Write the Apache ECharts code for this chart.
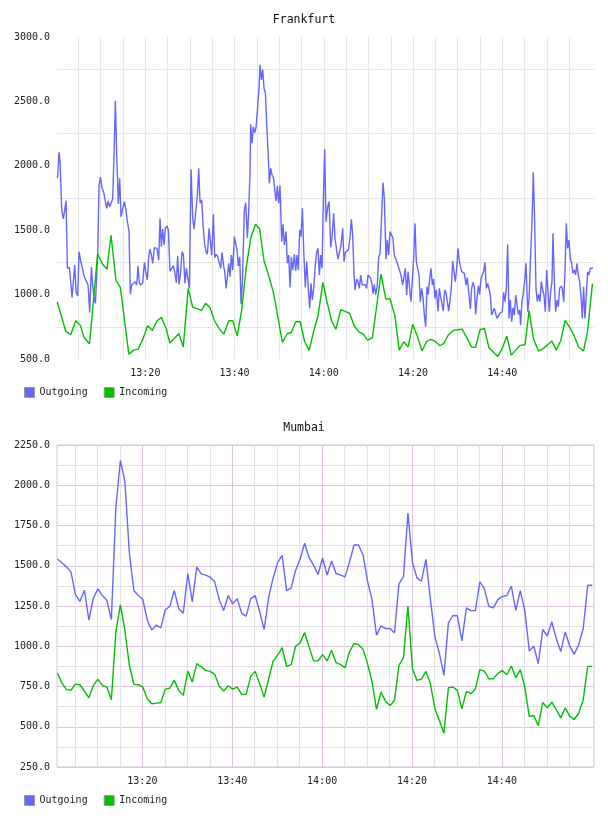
<!DOCTYPE html>
<html>
<head>
<meta charset="utf-8">
<script src="https://cdn.jsdelivr.net/npm/echarts@6/dist/echarts.min.js"></script>
<style>
html,body{margin:0;padding:0;background:#fff;}
#chart{width:608px;height:816px;}
</style>
</head>
<body>
<div id="chart"></div>
<script>
// ---- Data (x = minutes after 13:00) ----
const titles = ['Frankfurt', 'Mumbai'];
const seriesNames = ['Outgoing', 'Incoming'];
const tickLabelMinutes = [20, 40, 60, 80, 100];       // 13:20 ... 14:40
const gridMinutes = [5,10,15,20,25,30,35,40,45,50,55,60,65,70,75,80,85,90,95,100,105,110,115];

const frankfurtOutgoing = [
[0.3,1903],[0.66,2105],[0.88,2033],[1.26,1657],[1.63,1587],[2.01,1592],[2.23,1730],[2.53,1204],[2.98,1212],[3.27,1214],
[3.57,976],[3.87,991],[4.17,1230],[4.47,1022],[4.84,989],[5.14,1333],[5.51,1261],[5.89,1204],[6.19,1152],[6.49,1126],
[6.93,1113],[7.16,1074],[7.53,862],[7.91,1214],[8.2,1074],[8.5,978],[8.8,932],[9.32,1307],[9.62,1846],[9.92,1913],
[10.3,1825],[10.67,1794],[10.97,1735],[11.34,1670],[11.64,1727],[12.01,1683],[12.31,1683],[12.68,1742],[12.98,2084],[13.28,2504],
[13.58,2084],[13.95,1704],[14.25,1903],[14.55,1605],[14.93,1605],[15.3,1722],[15.6,1670],[15.97,1566],[16.34,1489],[16.64,1004],
[16.94,1074],[17.31,1087],[17.69,1100],[18.06,1074],[18.36,1222],[18.66,1092],[18.96,1074],[19.41,1092],[19.78,1250],[20.08,1178],
[20.45,1113],[20.75,1294],[21.05,1354],[21.35,1307],[21.65,1243],[22.02,1364],[22.32,1364],[22.62,1359],[22.99,1268],[23.29,1592],
[23.59,1372],[23.89,1509],[24.19,1385],[24.49,1515],[24.86,1533],[25.16,1502],[25.53,1183],[25.9,1191],[26.28,1224],[26.58,1178],
[26.95,1092],[27.25,1300],[27.55,1079],[27.85,1152],[28.22,1333],[28.52,1313],[28.89,1087],[29.19,1204],[29.49,1204],[29.86,1048],
[30.24,1973],[30.62,1592],[30.92,1509],[31.29,1515],[31.66,1774],[31.96,1981],[32.26,1709],[32.63,1735],[32.93,1540],[33.31,1385],
[33.6,1333],[33.9,1313],[34.28,1515],[34.58,1411],[34.87,1307],[35.25,1623],[35.55,1287],[35.85,1313],[36.22,1294],[36.52,1297],
[36.89,1204],[37.19,1328],[37.56,1217],[37.79,1178],[38.09,1048],[38.38,1134],[38.68,1243],[38.98,1139],[39.28,1307],[39.58,1191],
[39.95,1450],[40.25,1437],[40.55,1346],[40.85,1222],[41.15,1294],[41.45,925],[41.75,1100],[42.19,1657],[42.49,1714],[42.87,1442],
[43.16,1644],[43.46,1955],[43.61,2323],[43.91,2175],[44.21,2304],[44.51,2258],[44.81,2297],[45.18,2304],[45.48,2602],[45.7,2784],
[46.0,2667],[46.3,2745],[46.6,2602],[46.9,2569],[47.2,2317],[47.5,2110],[47.8,1864],[48.1,1981],[48.39,1929],[48.69,1911],
[48.99,1903],[49.29,1727],[49.59,1844],[49.89,1709],[50.18,1846],[50.56,1411],[50.86,1546],[51.16,1385],[51.53,1489],[51.83,1243],
[52.13,1307],[52.43,1056],[52.72,1294],[53.02,1191],[53.4,1313],[53.7,1183],[53.99,1307],[54.29,1191],[54.59,1502],[54.89,1450],
[55.19,1670],[55.56,1281],[55.86,1056],[56.16,1256],[56.53,1048],[56.83,893],[57.13,1087],[57.43,958],[57.73,1048],[58.03,1204],
[58.4,1333],[58.7,1359],[59.0,1152],[59.3,1307],[59.6,1204],[59.97,1851],[60.19,2131],[60.49,1566],[60.87,1683],[61.17,1722],
[61.54,1367],[61.84,1450],[62.21,1631],[62.51,1437],[62.81,1359],[63.18,1276],[63.56,1261],[63.85,1385],[64.23,1515],[64.53,1256],
[64.83,1328],[65.2,1315],[65.5,1346],[65.87,1442],[66.17,1584],[66.47,1463],[66.77,1152],[66.99,1036],[67.37,1121],[67.66,1100],
[67.96,1048],[68.26,1152],[68.63,1074],[68.93,1085],[69.23,1079],[69.6,1048],[69.9,1152],[70.2,1147],[70.5,1126],[70.8,1079],
[71.02,1007],[71.32,1079],[71.62,997],[71.99,1074],[72.29,1294],[72.59,1315],[72.97,1623],[73.26,1869],[73.56,1748],[73.94,1274],
[74.24,1424],[74.53,1307],[74.83,1489],[75.21,1489],[75.5,1437],[75.8,1307],[76.1,1313],[76.48,1243],[76.77,1250],[77.07,1178],
[77.37,1139],[77.67,1074],[77.97,1139],[78.27,1204],[78.57,997],[78.87,1178],[79.16,1074],[79.54,945],[79.84,958],[80.14,1287],
[80.43,1553],[80.73,1256],[81.03,1250],[81.33,1152],[81.63,945],[81.93,1048],[82.23,976],[82.53,841],[82.83,750],[83.12,1061],
[83.42,1002],[83.72,1126],[84.02,1204],[84.32,1074],[84.62,1121],[84.91,971],[85.21,1036],[85.59,872],[85.89,1048],[86.18,984],
[86.48,997],[86.78,872],[87.08,1036],[87.38,1017],[87.68,1022],[87.98,872],[88.28,958],[88.57,1048],[88.87,1261],[89.17,1178],
[89.47,1100],[89.77,1204],[90.07,1359],[90.37,1256],[90.89,1178],[91.19,1191],[91.49,1165],[91.86,1074],[92.16,1131],[92.54,1139],
[92.84,888],[93.13,1048],[93.43,1095],[93.73,1061],[94.03,846],[94.33,971],[94.63,1069],[94.93,1002],[95.23,1126],[95.52,1152],
[95.82,1183],[96.12,1250],[96.42,1048],[96.72,1087],[97.02,1100],[97.32,997],[97.61,841],[97.91,828],[98.21,893],[98.51,880],
[98.81,815],[99.11,833],[99.41,854],[99.71,854],[100.0,867],[100.3,1017],[100.6,945],[100.9,1048],[101.2,1390],[101.5,815],
[101.8,958],[102.1,789],[102.4,898],[102.7,841],[103.0,997],[103.3,984],[103.6,846],[103.9,880],[104.1,763],[104.4,945],
[104.7,1010],[105.0,1100],[105.3,1243],[105.7,867],[106.0,971],[106.3,1256],[106.7,1618],[106.95,1950],[107.25,1566],[107.55,1048],
[107.85,945],[108.15,1002],[108.45,945],[108.74,1100],[109.04,1036],[109.34,997],[109.64,867],[109.94,1191],[110.24,1178],[110.54,867],
[110.83,1022],[111.13,1100],[111.36,1476],[111.66,1100],[111.95,867],[112.25,958],[112.55,906],[112.85,1048],[113.15,1067],[113.45,1048],
[113.75,945],[114.05,1178],[114.34,1553],[114.64,1359],[114.94,1424],[115.24,1281],[115.54,1243],[115.84,1165],[116.14,1191],[116.43,1152],
[116.73,1243],[117.03,1152],[117.33,1100],[117.63,997],[117.93,815],[118.23,1061],[118.52,815],[118.82,997],[119.12,1178],[119.42,1152],
[119.72,1204],[120.02,1191],[120.32,1204]
];

const frankfurtIncoming = [
[0.25,945],[2.2,712],[3.3,691],[4.4,797],[5.4,763],[6.3,665],[7.5,618],[9.3,1315],[10.4,1237],[11.4,1196],
[12.3,1463],[13.4,1113],[14.4,1056],[16.3,538],[17.4,569],[18.4,577],[19.5,660],[20.5,758],[21.6,722],[22.6,795],
[23.6,823],[24.6,743],[25.5,624],[27.5,696],[28.5,593],[29.6,1048],[30.6,903],[32.6,877],[33.5,932],[34.5,898],
[35.5,797],[36.6,732],[37.6,694],[38.7,797],[39.6,797],[40.6,678],[41.6,883],[42.6,1204],[43.6,1437],[44.7,1546],
[45.6,1512],[46.6,1261],[47.6,1152],[48.7,1017],[49.7,828],[50.7,629],[51.8,696],[52.7,706],[53.7,789],[54.7,789],
[55.7,634],[56.7,566],[57.7,712],[58.7,836],[59.8,1095],[60.8,930],[61.8,789],[62.7,732],[63.8,883],[64.8,870],
[65.8,854],[66.8,758],[67.8,712],[68.9,691],[69.8,647],[70.9,665],[72.8,1160],[73.9,963],[74.8,971],[75.9,841],
[76.9,569],[77.9,634],[78.9,595],[79.9,769],[81.0,673],[82.0,562],[83.0,634],[84.0,652],[84.9,639],[86.0,603],
[86.9,621],[87.9,686],[89.0,722],[90.0,727],[91.0,732],[92.1,660],[93.1,593],[94.0,590],[95.0,727],[96.0,737],
[97.0,588],[98.0,554],[99.0,520],[100.0,582],[101.0,678],[102.0,530],[103.0,569],[104.0,606],[105.1,611],[106.0,875],
[107.0,655],[108.1,562],[109.0,577],[110.1,608],[111.1,639],[112.1,569],[113.1,644],[114.1,800],[115.1,745],[116.1,681],
[117.1,593],[118.2,562],[119.1,712],[120.2,1085]
];

// Mumbai: one sample per minute, first sample at 13:01
const mumbaiStartMinute = 1.1;
const mumbaiOutgoing = [
1542,1519,1494,1462,1321,1279,1348,1162,1300,1356,
1315,1285,1166,1862,2154,2025,1581,1346,1315,1290,
1162,1100,1131,1114,1225,1248,1346,1233,1205,1452,
1275,1492,1450,1442,1429,1400,1290,1221,1315,1263,
1296,1204,1187,1294,1315,1215,1104,1304,1425,1519,
1565,1346,1363,1471,1540,1640,1550,1504,1446,1548,
1442,1529,1452,1442,1431,1523,1629,1629,1567,1404,
1290,1069,1127,1110,1110,1083,1388,1433,1827,1519,
1425,1404,1540,1290,1058,954,819,1145,1191,1189,
1033,1238,1221,1221,1400,1358,1248,1238,1290,1310,
1315,1373,1223,1346,1221,971,1000,892,1104,1064,
1152,1048,967,1089,1002,950,1010,1110,1379,1379
];
const mumbaiIncoming = [
834,771,732,726,765,761,722,680,757,794,
757,746,668,1089,1258,1100,882,763,761,746,
674,643,647,649,734,740,788,726,695,846,
778,892,871,850,844,825,751,722,755,734,
746,701,701,813,844,767,684,798,909,944,
992,875,886,1000,1021,1085,996,909,909,948,
909,975,898,886,867,965,1017,1010,981,892,
778,609,715,659,632,663,882,929,1250,861,
788,796,844,767,611,539,460,742,746,726,
611,719,705,734,855,846,798,798,830,850,
823,877,805,855,746,564,570,507,651,618,
653,607,555,618,566,545,584,668,875,875
];

// ---- Build chart ----
const BLUE = '#6666ff', GREEN = '#00c000';
const PINK = '#dcc2dc', GRAY = '#e2e2e2', TOPGRAY = '#e6e6e6';
const FONT = '"DejaVu Sans Mono", "Liberation Mono", monospace';

function timeFmt(v) {
  const total = Math.round(v);
  const h = 13 + Math.floor(total / 60);
  const m = total % 60;
  return h + ':' + String(m).padStart(2, '0');
}
const mumbaiPairs = (arr) => arr.map((v, i) => [mumbaiStartMinute + i, v]);

const labelStyle = { fontFamily: FONT, fontSize: 10, color: '#222' };

const chart = echarts.init(document.getElementById('chart'), null, { renderer: 'canvas' });
chart.setOption({
  animation: false,
  backgroundColor: '#fff',
  title: [
    { text: titles[0], left: 'center', top: 14, padding: 0,
      textStyle: { fontFamily: FONT, fontSize: 11.5, fontWeight: 'normal', color: '#111' } },
    { text: titles[1], left: 'center', top: 422, padding: 0,
      textStyle: { fontFamily: FONT, fontSize: 11.5, fontWeight: 'normal', color: '#111' } }
  ],
  legend: [
    { left: 24, top: 387, padding: 0, itemWidth: 10, itemHeight: 10, itemGap: 16, icon: 'rect',
      data: seriesNames, selectedMode: false,
      itemStyle: { borderColor: '#999', borderWidth: 1 },
      textStyle: labelStyle },
    { left: 24, top: 795, padding: 0, itemWidth: 10, itemHeight: 10, itemGap: 16, icon: 'rect',
      data: seriesNames, selectedMode: false,
      itemStyle: { borderColor: '#999', borderWidth: 1 },
      textStyle: labelStyle }
  ],
  grid: [
    { left: 57, top: 37, width: 537, height: 322, containLabel: false },
    { left: 57, top: 445, width: 537, height: 322, containLabel: false,
      show: true, borderColor: PINK, borderWidth: 1 }
  ],
  xAxis: [
    { type: 'value', gridIndex: 0, min: 0.2, max: 120.55,
      axisLine: { show: false },
      axisTick: { show: false, customValues: gridMinutes },
      axisLabel: Object.assign({ customValues: tickLabelMinutes, formatter: timeFmt, margin: 9 }, labelStyle),
      splitLine: { show: true, lineStyle: { color: TOPGRAY, width: 1 } } },
    { type: 'value', gridIndex: 1, min: 1, max: 120.5,
      axisLine: { show: false },
      axisTick: { show: false, customValues: gridMinutes },
      axisLabel: Object.assign({ customValues: tickLabelMinutes, formatter: timeFmt, margin: 9 }, labelStyle),
      splitLine: { show: true, lineStyle: { color: [GRAY, GRAY, GRAY, PINK], width: 1 } } }
  ],
  yAxis: [
    { type: 'value', gridIndex: 0, min: 500, max: 3000, interval: 250,
      axisLine: { show: false }, axisTick: { show: false },
      axisLabel: Object.assign({ margin: 7, formatter: v => (v % 500 === 0 ? v.toFixed(1) : '') }, labelStyle),
      splitLine: { show: true, lineStyle: { color: ['rgba(0,0,0,0)', TOPGRAY], width: 1 } } },
    { type: 'value', gridIndex: 1, min: 250, max: 2250, interval: 125,
      axisLine: { show: false }, axisTick: { show: false },
      axisLabel: Object.assign({ margin: 7, formatter: v => (v % 250 === 0 ? v.toFixed(1) : '') }, labelStyle),
      splitLine: { show: true, lineStyle: { color: [PINK, GRAY], width: 1 } } }
  ],
  series: [
    { name: seriesNames[0], type: 'line', xAxisIndex: 0, yAxisIndex: 0, data: frankfurtOutgoing,
      showSymbol: false, symbol: 'none', color: BLUE, lineStyle: { color: BLUE, width: 1.4 } },
    { name: seriesNames[1], type: 'line', xAxisIndex: 0, yAxisIndex: 0, data: frankfurtIncoming,
      showSymbol: false, symbol: 'none', color: GREEN, lineStyle: { color: GREEN, width: 1.4 } },
    { name: seriesNames[0], type: 'line', xAxisIndex: 1, yAxisIndex: 1, data: mumbaiPairs(mumbaiOutgoing),
      showSymbol: false, symbol: 'none', color: BLUE, lineStyle: { color: BLUE, width: 1.4 } },
    { name: seriesNames[1], type: 'line', xAxisIndex: 1, yAxisIndex: 1, data: mumbaiPairs(mumbaiIncoming),
      showSymbol: false, symbol: 'none', color: GREEN, lineStyle: { color: GREEN, width: 1.4 } }
  ]
});
</script>
</body>
</html>
